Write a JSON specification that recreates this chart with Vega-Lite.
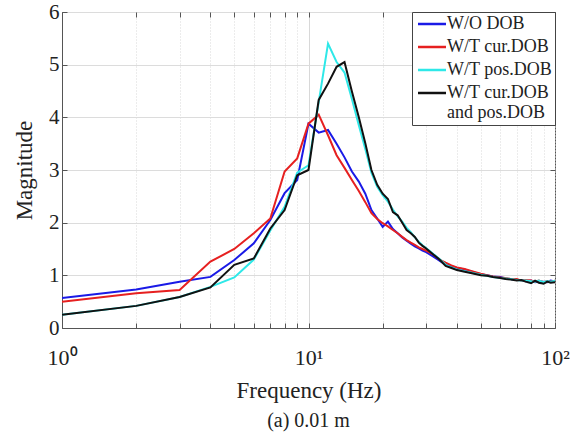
{
  "$schema": "https://vega.github.io/schema/vega-lite/v6.json",
  "autosize": "none",
  "width": 493,
  "height": 316,
  "padding": {"left": 62, "top": 12, "right": 29, "bottom": 109},
  "background": "white",
  "config": {
    "view": {"stroke": "#555", "strokeWidth": 1},
    "font": "Liberation Serif"
  },
  "title": {"text": "(a) 0.01 m", "orient": "bottom", "font": "Liberation Serif", "fontSize": 20, "fontWeight": "normal", "color": "#222", "offset": 9},
  "data": {"values": [
    {"f":1,"A":0.57,"B":0.5,"C":0.25,"D":0.25},
    {"f":2,"A":0.73,"B":0.66,"C":0.42,"D":0.42},
    {"f":3,"A":0.88,"B":0.72,"C":0.59,"D":0.59},
    {"f":4,"A":0.97,"B":1.26,"C":0.78,"D":0.77},
    {"f":5,"A":1.29,"B":1.5,"C":0.96,"D":1.2},
    {"f":6,"A":1.61,"B":1.8,"C":1.3,"D":1.32},
    {"f":7,"A":2.05,"B":2.08,"C":1.85,"D":1.89},
    {"f":8,"A":2.56,"B":2.97,"C":2.3,"D":2.24},
    {"f":9,"A":2.81,"B":3.22,"C":2.95,"D":2.9},
    {"f":10,"A":3.88,"B":3.88,"C":3.09,"D":3.0},
    {"f":11,"A":3.71,"B":4.05,"C":4.29,"D":4.33},
    {"f":12,"A":3.76,"B":3.66,"C":5.4,"D":4.64},
    {"f":13,"A":3.5,"B":3.28,"C":5.05,"D":4.96},
    {"f":14,"A":3.24,"B":3.04,"C":4.85,"D":5.05},
    {"f":15,"A":2.97,"B":2.81,"C":4.35,"D":4.49},
    {"f":16,"A":2.78,"B":2.6,"C":3.85,"D":4.0},
    {"f":17,"A":2.55,"B":2.39,"C":3.4,"D":3.51},
    {"f":18,"A":2.24,"B":2.18,"C":2.95,"D":3.0},
    {"f":19,"A":2.08,"B":2.07,"C":2.68,"D":2.72},
    {"f":20,"A":1.92,"B":1.99,"C":2.52,"D":2.55},
    {"f":21,"A":2.02,"B":1.93,"C":2.4,"D":2.45},
    {"f":22,"A":1.88,"B":1.86,"C":2.25,"D":2.2},
    {"f":23,"A":1.8,"B":1.8,"C":2.12,"D":2.14},
    {"f":24,"A":1.72,"B":1.73,"C":2.02,"D":2.0},
    {"f":25,"A":1.66,"B":1.67,"C":1.9,"D":1.86},
    {"f":26,"A":1.6,"B":1.62,"C":1.82,"D":1.8},
    {"f":27,"A":1.55,"B":1.58,"C":1.72,"D":1.73},
    {"f":28,"A":1.51,"B":1.53,"C":1.64,"D":1.62},
    {"f":29,"A":1.47,"B":1.5,"C":1.57,"D":1.56},
    {"f":30,"A":1.44,"B":1.47,"C":1.52,"D":1.51},
    {"f":32,"A":1.36,"B":1.4,"C":1.41,"D":1.4},
    {"f":34,"A":1.28,"B":1.3,"C":1.31,"D":1.3},
    {"f":36,"A":1.2,"B":1.24,"C":1.2,"D":1.18},
    {"f":38,"A":1.17,"B":1.19,"C":1.15,"D":1.14},
    {"f":40,"A":1.14,"B":1.15,"C":1.11,"D":1.1},
    {"f":43,"A":1.11,"B":1.12,"C":1.08,"D":1.07},
    {"f":46,"A":1.07,"B":1.08,"C":1.05,"D":1.04},
    {"f":50,"A":1.02,"B":1.03,"C":1.01,"D":1.0},
    {"f":53,"A":1.0,"B":1.0,"C":0.99,"D":0.99},
    {"f":56,"A":0.98,"B":0.98,"C":0.97,"D":0.97},
    {"f":60,"A":0.97,"B":0.96,"C":0.95,"D":0.95},
    {"f":63,"A":0.94,"B":0.95,"C":0.94,"D":0.93},
    {"f":66,"A":0.93,"B":0.93,"C":0.93,"D":0.92},
    {"f":70,"A":0.91,"B":0.93,"C":0.91,"D":0.9},
    {"f":73,"A":0.91,"B":0.9,"C":0.9,"D":0.91},
    {"f":76,"A":0.89,"B":0.91,"C":0.9,"D":0.88},
    {"f":80,"A":0.9,"B":0.9,"C":0.89,"D":0.85},
    {"f":83,"A":0.87,"B":0.88,"C":0.88,"D":0.9},
    {"f":86,"A":0.88,"B":0.9,"C":0.9,"D":0.86},
    {"f":90,"A":0.88,"B":0.87,"C":0.87,"D":0.84},
    {"f":93,"A":0.87,"B":0.89,"C":0.89,"D":0.88},
    {"f":96,"A":0.9,"B":0.88,"C":0.88,"D":0.86},
    {"f":100,"A":0.88,"B":0.9,"C":0.9,"D":0.87}
  ]},
  "transform": [{"fold": ["A", "B", "C", "D"], "as": ["series", "m"]}],
  "layer": [
    {
      "mark": {"type": "line", "strokeWidth": 2, "clip": true},
      "encoding": {
        "x": {
          "field": "f", "type": "quantitative",
          "scale": {"type": "log", "domain": [1, 100], "nice": false},
          "axis": {
            "title": "Frequency (Hz)",
            "titleFont": "Liberation Serif", "titleFontSize": 23, "titleFontWeight": "normal", "titleColor": "#222", "titlePadding": 11,
            "values": [1,2,3,4,5,6,7,8,9,10,20,30,40,50,60,70,80,90,100],
            "labelExpr": "datum.value == 1 ? '10⁰' : datum.value == 10 ? '10¹' : datum.value == 100 ? '10²' : ''",
            "labelFont": "Liberation Serif", "labelFontSize": 22, "labelColor": "#222", "labelPadding": 24,
            "labelFlush": false, "labelOverlap": false,
            "tickSize": -5, "tickColor": "#555", "domainColor": "#555",
            "grid": true, "gridColor": "#d8d8d8",
            "gridDash": {"condition": {"test": "datum.value == 10", "value": []}, "value": [1, 2]}
          }
        },
        "y": {
          "field": "m", "type": "quantitative",
          "scale": {"domain": [0, 6], "nice": false},
          "axis": {
            "title": "Magnitude",
            "titleFont": "Liberation Serif", "titleFontSize": 23, "titleFontWeight": "normal", "titleColor": "#222", "titlePadding": 12,
            "values": [0,1,2,3,4,5,6],
            "labelFont": "Liberation Serif", "labelFontSize": 21, "labelColor": "#222", "labelPadding": 8,
            "labelFlush": false,
            "tickSize": -5, "tickColor": "#555", "domainColor": "#555",
            "grid": true, "gridColor": "#dcdcdc"
          }
        },
        "color": {
          "field": "series", "type": "nominal",
          "scale": {"domain": ["A", "B", "C", "D"], "range": ["#1a1ae6", "#e62020", "#2ee8e8", "#111111"]},
          "legend": {
            "title": null,
            "orient": "top-right", "offset": 0,
            "labelExpr": "datum.value == 'A' ? 'W/O DOB' : datum.value == 'B' ? 'W/T cur.DOB' : datum.value == 'C' ? 'W/T pos.DOB' : ['W/T cur.DOB', '  and pos.DOB']",
            "labelFont": "Liberation Serif", "labelFontSize": 18, "labelColor": "#222", "labelOffset": 6,
            "symbolType": "M-2,0H2", "symbolSize": 196, "symbolStrokeWidth": 2.5, "symbolOffset": 8,
            "fillColor": "white", "strokeColor": "#444", "padding": 3, "rowPadding": 5
          }
        }
      }
    },
    {
      "mark": {"type": "line", "opacity": 0},
      "encoding": {
        "x": {
          "field": "f", "type": "quantitative",
          "scale": {"type": "log", "domain": [1, 100], "nice": false},
          "axis": {"orient": "top", "title": null, "labels": false, "grid": false, "domain": false,
                   "values": [1,2,3,4,5,6,7,8,9,10,20,30,40,50,60,70,80,90,100], "tickSize": -5, "tickColor": "#555"}
        },
        "y": {
          "field": "m", "type": "quantitative",
          "scale": {"domain": [0, 6], "nice": false},
          "axis": {"orient": "right", "title": null, "labels": false, "grid": false, "domain": false,
                   "values": [0,1,2,3,4,5,6], "tickSize": -5, "tickColor": "#555"}
        },
        "detail": {"field": "series"}
      }
    }
  ],
  "resolve": {"axis": {"x": "independent", "y": "independent"}}
}
